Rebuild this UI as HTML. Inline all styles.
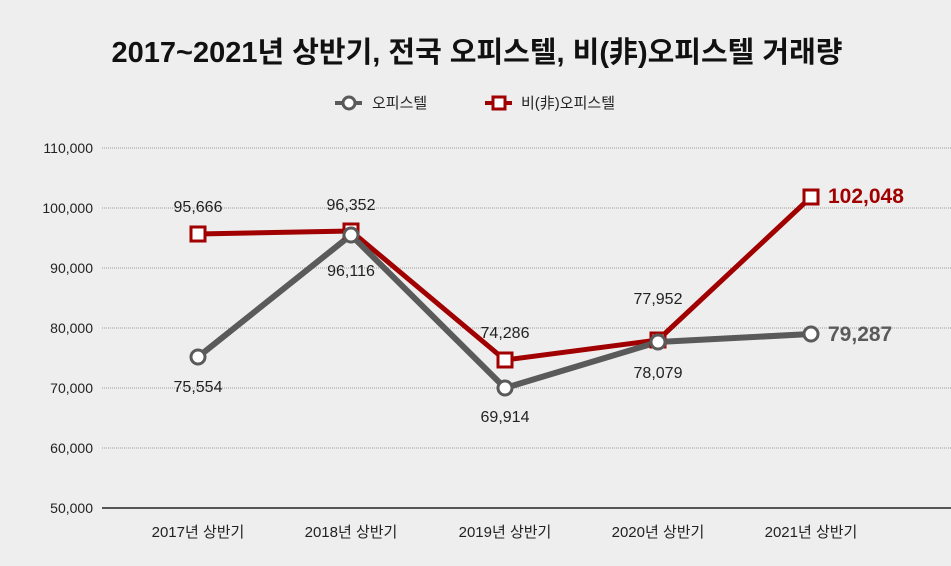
<!DOCTYPE html>
<html><head><meta charset="utf-8"><style>
body{margin:0;background:#eeeeee;}
svg{display:block;font-family:"Liberation Sans","Noto Sans CJK KR",sans-serif;}
</style></head><body>
<svg width="951" height="566" viewBox="0 0 951 566">
<rect width="951" height="566" fill="#eeeeee"/>
<text x="477" y="62" text-anchor="middle" font-size="29" font-weight="bold" fill="#111" letter-spacing="0">2017~2021년 상반기, 전국 오피스텔, 비(非)오피스텔 거래량</text>
<g font-size="15" fill="#222">
<line x1="335" y1="103" x2="362" y2="103" stroke="#5a5a5a" stroke-width="4"/>
<circle cx="349" cy="103" r="6" fill="#fff" stroke="#5a5a5a" stroke-width="3"/>
<text x="372" y="108">오피스텔</text>
<line x1="485" y1="103" x2="512" y2="103" stroke="#a00000" stroke-width="4"/>
<rect x="493" y="97" width="12" height="12" fill="#fff" stroke="#a00000" stroke-width="3"/>
<text x="521" y="108">비(非)오피스텔</text>
</g>
<g stroke="#999" stroke-width="1" stroke-dasharray="1,1">
<line x1="102" y1="148" x2="951" y2="148"/><line x1="102" y1="208" x2="951" y2="208"/>
<line x1="102" y1="268" x2="951" y2="268"/><line x1="102" y1="328" x2="951" y2="328"/>
<line x1="102" y1="388" x2="951" y2="388"/><line x1="102" y1="448" x2="951" y2="448"/>
</g>
<line x1="102" y1="508" x2="951" y2="508" stroke="#222" stroke-width="1.5"/>
<g font-size="14" fill="#222" text-anchor="end">
<text x="93" y="153">110,000</text><text x="93" y="213">100,000</text><text x="93" y="273">90,000</text>
<text x="93" y="333">80,000</text><text x="93" y="393">70,000</text><text x="93" y="453">60,000</text><text x="93" y="513">50,000</text>
</g>
<g font-size="15" fill="#222" text-anchor="middle">
<text x="198" y="537">2017년 상반기</text><text x="351" y="537">2018년 상반기</text><text x="505" y="537">2019년 상반기</text>
<text x="658" y="537">2020년 상반기</text><text x="811" y="537">2021년 상반기</text>
</g>
<polyline points="198,234 351,231 505,360 658,340 811,197" fill="none" stroke="#a00000" stroke-width="5" stroke-linejoin="round"/>
<polyline points="198,357 351,235 505,388 658,342 811,334" fill="none" stroke="#5a5a5a" stroke-width="6" stroke-linejoin="round"/>
<g fill="#fff" stroke="#a00000" stroke-width="3">
<rect x="191" y="227" width="14" height="14"/><rect x="344" y="224" width="14" height="14"/>
<rect x="498" y="353" width="14" height="14"/><rect x="651" y="333" width="14" height="14"/><rect x="804" y="190" width="14" height="14"/>
</g>
<g fill="#fff" stroke="#5a5a5a" stroke-width="3">
<circle cx="198" cy="357" r="7"/><circle cx="351" cy="235" r="7"/><circle cx="505" cy="388" r="7"/>
<circle cx="658" cy="342" r="7"/><circle cx="811" cy="334" r="7"/>
</g>
<g font-size="16" fill="#222" text-anchor="middle">
<text x="198" y="212">95,666</text><text x="351" y="210">96,352</text><text x="351" y="276">96,116</text>
<text x="198" y="392">75,554</text><text x="505" y="338">74,286</text><text x="505" y="422">69,914</text>
<text x="658" y="304">77,952</text><text x="658" y="378">78,079</text>
</g>
<text x="828" y="203" font-size="21" font-weight="bold" fill="#a00000">102,048</text>
<text x="828" y="341" font-size="21" font-weight="bold" fill="#5a5a5a">79,287</text>
</svg>
</body></html>
